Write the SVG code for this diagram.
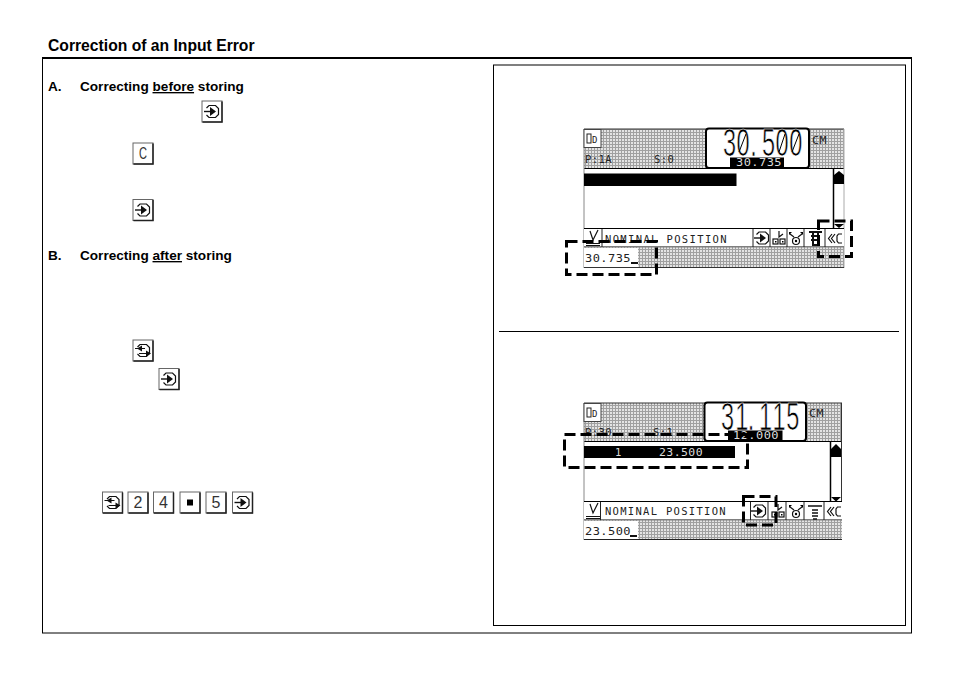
<svg xmlns="http://www.w3.org/2000/svg" width="954" height="675" viewBox="0 0 954 675">
<style>
.t{font-family:"Liberation Sans",Arial,sans-serif;font-weight:bold;fill:#000}
.h{font-size:15.7px}
.b{font-size:13.6px}
.m{font-family:"DejaVu Sans Mono","Liberation Mono",monospace;font-size:10.5px;fill:#222;letter-spacing:.4px}
.w{fill:#ddd}
.d{font-family:"Liberation Sans",Arial,sans-serif;font-size:38px;fill:#000;stroke:#fff;stroke-width:.7px}
.dash{fill:none;stroke:#000;stroke-width:3;stroke-dasharray:11 5}
.frame{fill:none;stroke:#000;stroke-width:1}
.btn{fill:#fff;stroke:#666;stroke-width:1}
.sh{fill:none;stroke:#222;stroke-width:1.5}
.k{font-family:"Liberation Sans",sans-serif;font-size:16px;fill:#333;text-anchor:middle}
.ic{fill:none;stroke:#111;stroke-width:1.2}
.sl{stroke:#000;stroke-width:1}
</style>
<defs>
<pattern id="dots" width="3" height="3" patternUnits="userSpaceOnUse">
<rect width="3" height="3" fill="#e4e4e4"/>
<rect width="3" height="1" fill="#a0a0a0"/>
<rect width="1" height="3" fill="#a0a0a0"/>
</pattern>
<g id="glyph-enter">
<path class="ic" d="M3.5 5.5 L6 3 H12.5 L15.5 6 V12 L12.5 15 H6 L3.5 12.5"/>
<path d="M1 9 H8" stroke="#111" stroke-width="1.4"/>
<path d="M7 4.5 L13 9 L7 13.5Z" fill="#111"/>
</g>
<g id="key"><rect class="btn" x="0.5" y="0.5" width="20" height="21"/><path class="sh" d="M1 21.5 H20.5 V1"/></g>
<g id="key-enter"><use href="#key"/><use href="#glyph-enter" transform="translate(1.5,2)"/></g>
<g id="glyph-swap">
<path class="ic" d="M3.5 5.5 L6 3 H12.5 L15.5 6 V12 L12.5 15 H6 L3.5 12.5"/>
<path d="M1 7 H11 M5 12 H15" stroke="#111" stroke-width="1.2"/>
<path d="M8 4 L3 7 L8 10Z M12 9 L17 12 L12 15Z" fill="#111"/>
</g>
<g id="key-swap"><use href="#key"/><use href="#glyph-swap" transform="translate(1.5,2)"/></g>
<g id="i-tool"><path class="ic" d="M1 14.5 H15 M1 16.5 H15 M5 2 L8 11 L13 1"/></g>
<g id="i-grid"><path class="ic" d="M8 1 V7 L12 4"/><rect class="ic" x="2" y="9" width="5" height="5"/><rect class="ic" x="9" y="9" width="5" height="5"/><rect x="4" y="11" width="1.5" height="1.5"/><rect x="11" y="11" width="1.5" height="1.5"/></g>
<g id="i-wheel"><circle class="ic" cx="8" cy="11" r="3.5"/><circle cx="8" cy="11" r="1.2"/><path class="ic" d="M2 4 L6 7 M14 4 L10 7"/><path d="M1 2 L4 2 L1 5Z M15 2 L12 2 L15 5Z"/></g>
<g id="i-clear"><path class="ic" d="M5 4 L1.5 8.5 L5 13 M8 4 L4.5 8.5 L8 13"/><path class="ic" d="M15 4 H11.5 L10 6 V11 L11.5 13 H15"/></g>
</defs>

<g id="page">
<text class="t h" x="48" y="50.5">Correction of an Input Error</text>
<path d="M42 58 H912" stroke="#000" stroke-width="2"/>
<rect class="frame" x="42.5" y="58" width="869" height="575"/>
</g>

<g id="section-a">
<text class="t b" x="48" y="91">A.</text>
<text class="t b" x="80" y="91">Correcting <tspan text-decoration="underline">before</tspan> storing</text>
<use href="#key-enter" x="201.5" y="100.5"/>
<g transform="translate(132.5,142.5)"><use href="#key"/><text class="k" x="10.5" y="16.5" textLength="8" lengthAdjust="spacingAndGlyphs" style="text-anchor:start" dx="-4">C</text></g>
<use href="#key-enter" x="132.5" y="199"/>
</g>

<g id="section-b">
<text class="t b" x="48" y="260">B.</text>
<text class="t b" x="80" y="260">Correcting <tspan text-decoration="underline">after</tspan> storing</text>
<use href="#key-swap" x="132.5" y="339.5"/>
<use href="#key-enter" x="158.5" y="368"/>
<use href="#key-swap" x="102" y="491.5"/>
<g transform="translate(127.5,491.5)"><use href="#key"/><text class="k" x="10.5" y="16.5">2</text></g>
<g transform="translate(153,491.5)"><use href="#key"/><text class="k" x="10.5" y="16.5">4</text></g>
<g transform="translate(179.5,491.5)"><use href="#key"/><rect x="7.5" y="8" width="6" height="6"/></g>
<g transform="translate(205.5,491.5)"><use href="#key"/><text class="k" x="10.5" y="16.5">5</text></g>
<use href="#key-enter" x="232" y="491.5"/>
</g>

<g id="right-panel">
<rect class="frame" x="493.5" y="65" width="412" height="560.5"/>
<path d="M499 331.5 H899" stroke="#000"/>
</g>

<g id="screen-1">
<rect x="584" y="129" width="260" height="39" fill="url(#dots)"/>
<rect x="584" y="168" width="260" height="60" fill="#fff"/>
<path d="M584 129 H844" stroke="#333"/>
<path d="M584 168.5 H844" stroke="#000" stroke-width="1.2"/>
<path d="M584 129 V268" stroke="#888"/>
<path d="M844 129 V268" stroke="#aaa"/>
<rect x="584" y="129.5" width="17" height="18" fill="#fff" stroke="#444"/>
<rect x="587" y="134" width="4" height="9" fill="none" stroke="#222"/>
<text class="m" x="592" y="143" style="font-size:9px">D</text>
<text class="m" x="585" y="163">P:1A</text>
<text class="m" x="654" y="163">S:0</text>
<rect x="706" y="128.5" width="103" height="39.5" rx="3" fill="#fff" stroke="#000" stroke-width="2"/>
<g transform="scale(.62,1)"><text class="d" x="1166 1188 1210 1229 1251 1273" y="156">30.500</text></g>
<path class="sl" d="M739 152 L746 134 M779 152 L785 134 M792 152 L799 134"/>
<rect x="730" y="157.5" width="54" height="10"/>
<text class="m w" x="736" y="166" textLength="46" lengthAdjust="spacingAndGlyphs">30.735</text>
<text class="m" x="812" y="144" textLength="15" lengthAdjust="spacingAndGlyphs">CM</text>
<rect x="584" y="173.5" width="152.5" height="12.5"/>
<path d="M833.5 169 V228" stroke="#000" stroke-width="1.5"/>
<path d="M834 175 L839 171 L844 175Z"/>
<rect x="834" y="175" width="10" height="9"/>
<path d="M834 224 L844 224 L839 228Z"/>
<rect x="584" y="228.5" width="260" height="18.5" fill="#fff"/>
<path d="M584 228.5 H844" stroke="#000" stroke-width="1.2"/>
<path d="M584 247 H844" stroke="#555" stroke-width="1.5"/>
<use href="#i-tool" x="585" y="229"/>
<path d="M602 229 V247 M753 229 V247 M770 229 V247 M787 229 V247 M804 229 V247 M825 229 V247" stroke="#222"/>
<text class="m" x="605" y="243" textLength="122" lengthAdjust="spacing">NOMINAL POSITION</text>
<use href="#glyph-enter" transform="translate(753,229)"/>
<use href="#i-grid" transform="translate(771,230)"/>
<use href="#i-wheel" transform="translate(788,230)"/>
<path d="M809 232 H822 M813 232 V245 H818 V232 M811 236 H820 M811 240 H820" stroke="#111" stroke-width="2" fill="none"/>
<use href="#i-clear" transform="translate(827,230)"/>
<rect x="584" y="247.5" width="260" height="20" fill="url(#dots)"/>
<rect x="584" y="248" width="54" height="19.5" fill="#fff"/>
<path d="M584 267.5 H844" stroke="#333"/>
<text class="m" x="585" y="262" textLength="46" lengthAdjust="spacingAndGlyphs">30.735</text>
<rect x="631" y="262" width="7" height="2" fill="#111"/>
<rect class="dash" x="566.5" y="241.5" width="90" height="33"/>
<rect class="dash" x="818.5" y="221" width="33" height="35.5"/>
</g>

<g id="screen-2">
<rect x="584" y="403" width="258" height="38" fill="url(#dots)"/>
<rect x="584" y="441" width="258" height="60" fill="#fff"/>
<path d="M584 403 H842" stroke="#333"/>
<path d="M584 441.5 H842" stroke="#000" stroke-width="1.2"/>
<path d="M584 403 V540" stroke="#888"/>
<path d="M841.5 403 V540" stroke="#333"/>
<rect x="584" y="403.5" width="17" height="18" fill="#fff" stroke="#444"/>
<rect x="587" y="408" width="4" height="9" fill="none" stroke="#222"/>
<text class="m" x="592" y="417" style="font-size:9px">D</text>
<text class="m" x="585" y="436">P:30</text>
<text class="m" x="653" y="436">S:1</text>
<rect x="704.5" y="402.5" width="101.5" height="38.5" rx="3" fill="#fff" stroke="#000" stroke-width="2"/>
<g transform="scale(.62,1)"><text class="d" x="1163 1186 1206 1224 1246 1268" y="430">31.115</text></g>
<rect x="728" y="430.5" width="54.5" height="10"/>
<text class="m w" x="733" y="439" textLength="46" lengthAdjust="spacingAndGlyphs">12.000</text>
<text class="m" x="809" y="417" textLength="15" lengthAdjust="spacingAndGlyphs">CM</text>
<rect x="584" y="446" width="151" height="12"/>
<text class="m w" x="615" y="456">1</text>
<text class="m w" x="659" y="456" textLength="44" lengthAdjust="spacingAndGlyphs">23.500</text>
<path d="M830.5 442 V501" stroke="#000" stroke-width="1.5"/>
<path d="M831 449 L836 444 L841 449Z"/>
<rect x="831" y="449" width="10" height="8"/>
<path d="M831 497 L841 497 L836 501.5Z"/>
<rect x="584" y="501.5" width="258" height="18.5" fill="#fff"/>
<path d="M584 501.5 H842" stroke="#000" stroke-width="1.2"/>
<path d="M584 520 H842" stroke="#555" stroke-width="1.5"/>
<use href="#i-tool" x="585" y="502"/>
<path d="M600.5 502 V520 M750.5 502 V520 M768 502 V520 M786 502 V520 M804 502 V520 M824 502 V520" stroke="#222"/>
<text class="m" x="605" y="515" textLength="121" lengthAdjust="spacing">NOMINAL POSITION</text>
<use href="#glyph-enter" transform="translate(750,502)"/>
<use href="#i-grid" transform="translate(770,503)"/>
<use href="#i-wheel" transform="translate(788,503)"/>
<path d="M808 506 H822 M812 510 H818 M812 513 H818 M812 516 H818 M813 519 H817" stroke="#111" stroke-width="1.4" fill="none"/>
<use href="#i-clear" transform="translate(826,503)"/>
<rect x="584" y="520.5" width="258" height="19" fill="url(#dots)"/>
<rect x="584" y="521" width="54" height="18" fill="#fff"/>
<path d="M584 539.5 H842" stroke="#222"/>
<text class="m" x="585" y="534.5" textLength="46" lengthAdjust="spacingAndGlyphs">23.500</text>
<rect x="630" y="535" width="7" height="2" fill="#111"/>
<rect class="dash" x="564.5" y="434.5" width="183" height="33"/>
<rect class="dash" x="743.5" y="496.5" width="32.5" height="28.5"/>
</g>
</svg>
